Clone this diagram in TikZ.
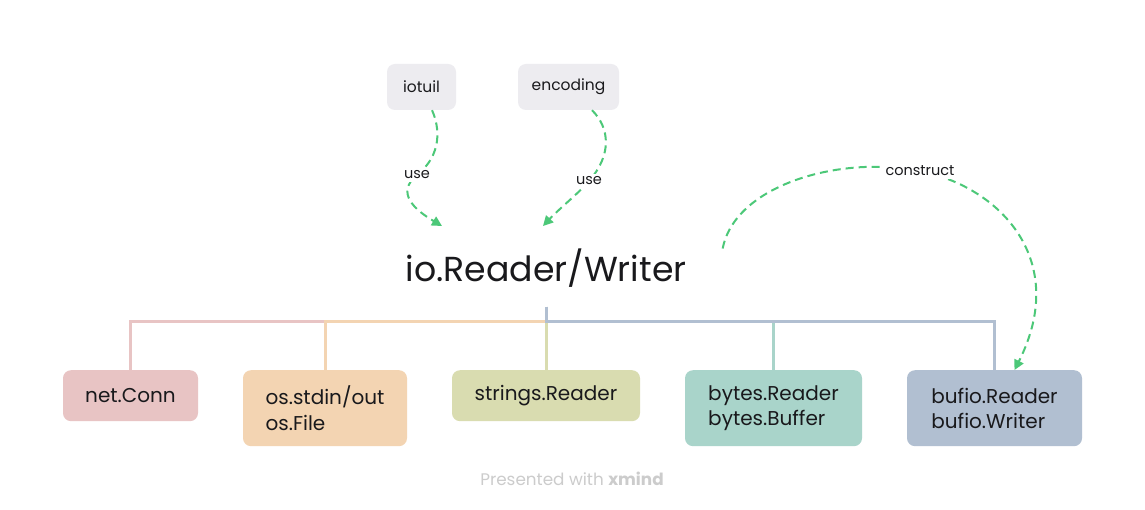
\documentclass[tikz,border=0pt]{standalone}
\usepackage{fontspec}
\setmainfont{Poppins}
\usepackage{xcolor}
\usetikzlibrary{arrows.meta}
\definecolor{encre}{RGB}{25,25,28}
\definecolor{vert}{RGB}{76,200,120}
\definecolor{gris}{RGB}{237,236,240}
\definecolor{cNet}{RGB}{232,196,196}
\definecolor{cOs}{RGB}{243,212,178}
\definecolor{cStr}{RGB}{217,220,176}
\definecolor{cBytes}{RGB}{169,212,202}
\definecolor{cBufio}{RGB}{177,191,209}
\tikzset{
Boite/.style={
 fill=#1,
 rounded corners=8pt,
 align=left,
 anchor=north,
 inner xsep=0pt,
 minimum height=51pt,
 text=encre,
 font=\fontsize{20}{25.5}\selectfont
 },
Pastille/.style={
 fill=gris,
 rounded corners=8pt,
 minimum height=46pt,
 text=encre,
 font=\fontsize{15.5}{18}\selectfont
 },
Branche/.style={
 draw=#1,
 line width=3pt
 },
Fleche/.style={
 draw=vert,
 line width=2pt,
 dash pattern=on 8pt off 5pt,
 -{Triangle[length=10pt,width=10pt]}
 },
Etiquette/.style={
 fill=white,
 inner sep=3pt,
 text=encre,
 font=\fontsize{14.5}{17}\selectfont
 }
}
\begin{document}
\begin{tikzpicture}[x=1pt,y=-1pt]
\useasboundingbox[fill=white] (0,0) rectangle (1145,510);
% central topic
\node[inner sep=0pt,text=encre,font=\fontsize{34.7}{40}\selectfont] (root) at (546,268) {io.Reader/Writer};
\coordinate (rs) at (546,307);
% packages above
\node[Pastille,minimum width=69pt] (iotuil) at (421.5,87) {iotuil};
\node[Pastille,minimum width=101pt] (encoding) at (568.5,87) {encoding};
% implementations
\node[Boite=cNet,minimum width=135pt] (net) at (130.5,370) {net.Conn};
\node[Boite=cOs,minimum width=164pt,minimum height=76pt] (os) at (325,370) {os.stdin/out\\os.File};
\node[Boite=cStr,minimum width=188pt] (str) at (546,370) {strings.Reader};
\node[Boite=cBytes,minimum width=177pt,minimum height=76pt] (bytes) at (773.5,370) {bytes.Reader\\bytes.Buffer};
\node[Boite=cBufio,minimum width=175pt,minimum height=76pt] (bufio) at (994.5,370) {bufio.Reader\\bufio.Writer};
% tree
\draw[Branche=cStr] (rs) -- (str.north);
\draw[Branche=cNet] (rs) -- ++(0,15) -| (net.north);
\draw[Branche=cOs] (rs) -- ++(0,15) -| (os.north);
\draw[Branche=cBytes] (rs) -- ++(0,15) -| (bytes.north);
\draw[Branche=cBufio] (rs) -- ++(0,15) -| (bufio.north);
% relations
\coordinate (u1) at (442,226);
\coordinate (u2) at (543,226);
\coordinate (cs) at ([xshift=36pt]root.north east);
\draw[Fleche] ([xshift=10.5pt]iotuil.south) .. controls (440,128) and (442,155) .. (417,175) node[Etiquette] {use}
 .. controls (395,193) and (415,210) .. (u1);
\draw[Fleche] ([xshift=23.5pt]encoding.south) .. controls (610,128) and (612,155) .. (589,181) node[Etiquette] {use}
 .. controls (580,192) and (560,208) .. (u2);
\draw[Fleche] (cs) .. controls (735,185) and (840,155) .. (920,171) node[Etiquette] {construct}
 .. controls (1000,187) and (1070,260) .. ([xshift=20pt]bufio.north);
% watermark
\node[text=black!20,font=\fontsize{16.8}{19}\selectfont] (pw) at (572,479) {Presented with \textbf{xmind}};
\end{tikzpicture}
\end{document}
